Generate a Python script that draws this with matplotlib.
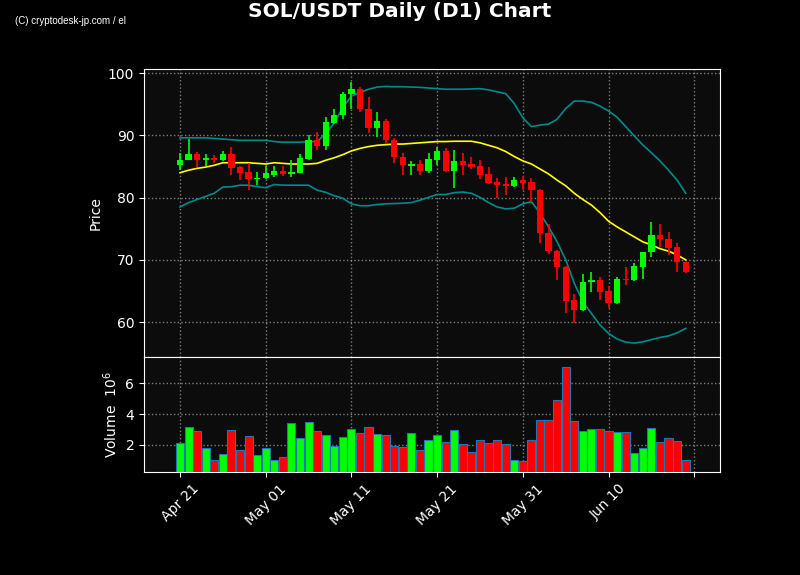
import matplotlib
matplotlib.use("Agg")
import matplotlib.pyplot as plt
from matplotlib.ticker import MultipleLocator, FuncFormatter
import pandas as pd

dates = pd.date_range("2025-04-21", periods=60, freq="D")

opens = [85.2, 86.1, 87.0, 86.1, 86.3, 86.1, 87.0, 84.9, 84.1, 83.0,
         83.1, 83.7, 84.3, 83.8, 84.0, 86.2, 89.2, 88.3, 92.0, 93.2,
         96.6, 97.4, 94.3, 91.2, 92.3, 89.2, 86.6, 85.1, 85.4, 84.3,
         86.1, 87.5, 84.3, 85.9, 85.4, 85.1, 83.8, 82.5, 82.2, 81.9,
         82.8, 82.5, 81.3, 74.3, 71.5, 68.8, 63.5, 62.0, 66.4, 66.8,
         65.0, 63.1, 67.0, 66.7, 68.9, 71.2, 74.0, 73.4, 72.0, 69.7]
highs = [87.1, 89.4, 87.3, 87.0, 86.8, 87.5, 88.1, 85.1, 85.5, 84.1,
         85.0, 85.1, 85.1, 86.0, 87.0, 90.0, 90.5, 92.9, 94.2, 97.0,
         98.5, 97.7, 96.1, 93.7, 92.7, 89.5, 87.2, 85.9, 86.0, 87.1,
         88.1, 87.9, 87.6, 87.1, 86.6, 86.1, 84.9, 83.1, 83.3, 83.3,
         83.4, 83.1, 81.4, 75.7, 71.6, 69.0, 64.6, 67.8, 68.1, 67.3,
         65.8, 67.3, 68.8, 69.5, 71.3, 76.1, 75.7, 74.5, 72.7, 69.7]
lows = [84.4, 86.0, 84.9, 85.1, 85.5, 85.9, 83.6, 82.9, 81.3, 82.1,
        83.0, 83.3, 83.5, 83.3, 84.0, 86.0, 87.6, 87.6, 91.9, 92.7,
        94.3, 93.7, 90.3, 89.8, 88.6, 85.5, 83.6, 83.6, 83.7, 83.9,
        85.2, 84.1, 81.5, 83.7, 84.6, 83.0, 82.2, 80.0, 80.4, 81.7,
        81.2, 79.3, 72.7, 70.9, 66.8, 61.4, 59.9, 61.8, 64.9, 63.5,
        62.2, 63.0, 65.9, 66.6, 66.9, 70.5, 72.0, 70.8, 68.1, 67.9]
closes = [86.0, 87.0, 86.1, 86.3, 86.1, 87.0, 84.8, 84.0, 83.0, 83.2,
          83.9, 84.3, 83.8, 84.1, 86.4, 89.2, 88.3, 92.1, 93.3, 96.6,
          97.4, 94.3, 91.2, 92.3, 89.2, 86.6, 85.2, 85.35, 84.3, 86.2,
          87.5, 84.3, 85.9, 85.2, 84.9, 83.6, 82.4, 82.1, 81.9, 82.8,
          82.3, 81.3, 74.3, 71.5, 68.8, 63.4, 62.0, 66.4, 66.8, 64.9,
          63.1, 66.9, 66.7, 69.0, 71.2, 74.0, 73.4, 71.9, 69.6, 68.1]

# volume in millions
volumes = [2.11, 3.15, 2.89, 1.78, 1.0, 1.40, 2.95, 1.66, 2.56, 1.33,
           1.78, 1.0, 1.2, 3.41, 2.44, 3.47, 2.91, 2.63, 1.92, 2.5,
           3.02, 2.78, 3.15, 2.69, 2.63, 1.92, 1.85, 2.76, 1.66, 2.3,
           2.63, 2.17, 2.95, 2.04, 1.53, 2.3, 2.11, 2.3, 2.04, 1.0,
           0.94, 2.3, 3.6, 3.6, 4.9, 7.05, 3.54, 2.89, 3.02, 3.02,
           2.89, 2.82, 2.82, 1.46, 1.78, 3.08, 2.17, 2.44, 2.24, 1.0]

bb_mid = [84.0, 84.4, 84.7, 84.9, 85.2, 85.6, 85.6, 85.6, 85.6, 85.5,
          85.4, 85.6, 85.5, 85.4, 85.4, 85.4, 85.5, 86.0, 86.4, 86.9,
          87.5, 87.9, 88.2, 88.4, 88.5, 88.6, 88.6, 88.7, 88.8, 88.9,
          89.0, 89.0, 89.05, 89.05, 89.05, 88.8, 88.4, 88.0, 87.4, 86.6,
          85.9, 85.4, 84.6, 83.8, 82.8, 81.9, 80.7, 79.7, 78.8, 77.6,
          76.2, 75.3, 74.5, 73.7, 72.9, 72.4, 71.8, 71.4, 70.8, 70.0]
bb_upper = [89.6, 89.6, 89.6, 89.6, 89.5, 89.4, 89.3, 89.2, 89.2, 89.2,
            89.2, 89.0, 88.9, 88.9, 88.9, 89.0, 89.0, 90.3, 92.0, 94.5,
            96.3, 96.9, 97.4, 97.75, 97.85, 97.8, 97.8, 97.75, 97.7, 97.6,
            97.5, 97.4, 97.4, 97.4, 97.45, 97.5, 97.3, 97.0, 96.7, 95.1,
            92.8, 91.4, 91.65, 91.8, 92.6, 94.3, 95.5, 95.5, 95.3, 94.7,
            93.9, 92.9, 91.4, 89.9, 88.45, 87.2, 85.9, 84.4, 82.8, 80.7]
bb_lower = [78.5, 79.2, 79.7, 80.2, 80.7, 81.7, 81.75, 82.0, 82.0, 81.75,
            81.6, 82.1, 82.0, 82.0, 82.0, 82.0, 81.2, 80.85, 80.3, 79.9,
            79.0, 78.7, 78.7, 78.9, 79.0, 79.05, 79.1, 79.2, 79.6, 80.05,
            80.5, 80.5, 80.8, 80.9, 80.7, 80.05, 79.2, 78.5, 78.2, 78.3,
            79.0, 79.35, 77.5, 75.3, 72.9, 70.0, 66.25, 63.3, 61.4, 59.55,
            58.2, 57.3, 56.8, 56.65, 56.85, 57.2, 57.55, 57.8, 58.3, 59.0]

UP = "#00ff00"
DOWN = "#ff0000"
BG = "#0c0c0c"

fig = plt.figure(figsize=(8, 5.75), dpi=100, facecolor="black")
ax = fig.add_axes([0.18, 0.379, 0.72, 0.501], facecolor=BG)
axv = fig.add_axes([0.18, 0.179, 0.72, 0.2], facecolor=BG, sharex=ax)

x = list(range(len(closes)))
colors = [UP if c >= o else DOWN for o, c in zip(opens, closes)]

# candles
for i in x:
    ax.vlines(i, lows[i], highs[i], color=colors[i], linewidth=1.2, zorder=3)
    bottom = min(opens[i], closes[i])
    height = max(abs(closes[i] - opens[i]), 0.15)
    ax.bar(i, height, bottom=bottom, width=0.72, color=colors[i], zorder=4)

ax.plot(x, bb_upper, color="#008b8b", linewidth=1.2, zorder=2)
ax.plot(x, bb_lower, color="#008b8b", linewidth=1.2, zorder=2)
ax.plot(x, bb_mid, color="#ffff00", linewidth=1.2, zorder=2)

axv.bar(x, volumes, width=0.95, color=colors, edgecolor="#1f77b4",
        linewidth=0.8, zorder=3)

ax.set_xlim(-4.2, 63.0)
ax.set_ylim(54.4, 100.65)
axv.set_ylim(0.23, 7.7)

ax.xaxis.set_major_locator(MultipleLocator(10))
ax.set_yticks([60, 70, 80, 90, 100])
axv.set_yticks([2, 4, 6])


def date_label(val, pos):
    i = int(round(val))
    if 0 <= i < len(dates):
        return dates[i].strftime("%b %d")
    return ""


axv.xaxis.set_major_formatter(FuncFormatter(date_label))
plt.setp(ax.get_xticklabels(), visible=False)
plt.setp(axv.get_xticklabels(), rotation=45)

for a in (ax, axv):
    a.grid(True, color="#9a9a9a", linestyle=":", linewidth=1.0, alpha=0.8)
    a.tick_params(colors="white", labelsize=10)
    for s in a.spines.values():
        s.set_color("white")
    a.set_axisbelow(True)

ax.set_ylabel("Price", color="white", fontsize=10)
axv.set_ylabel("Volume  $10^6$", color="white", fontsize=10)

fig.suptitle("SOL/USDT Daily (D1) Chart", color="white", fontsize=14.5,
             fontweight="bold", y=0.996)
fig.text(0.019, 0.963, "(C) cryptodesk-jp.com / el", color="white",
         fontsize=7, family="Liberation Sans", va="center")

fig.savefig("out.png", dpi=100, facecolor="black")
